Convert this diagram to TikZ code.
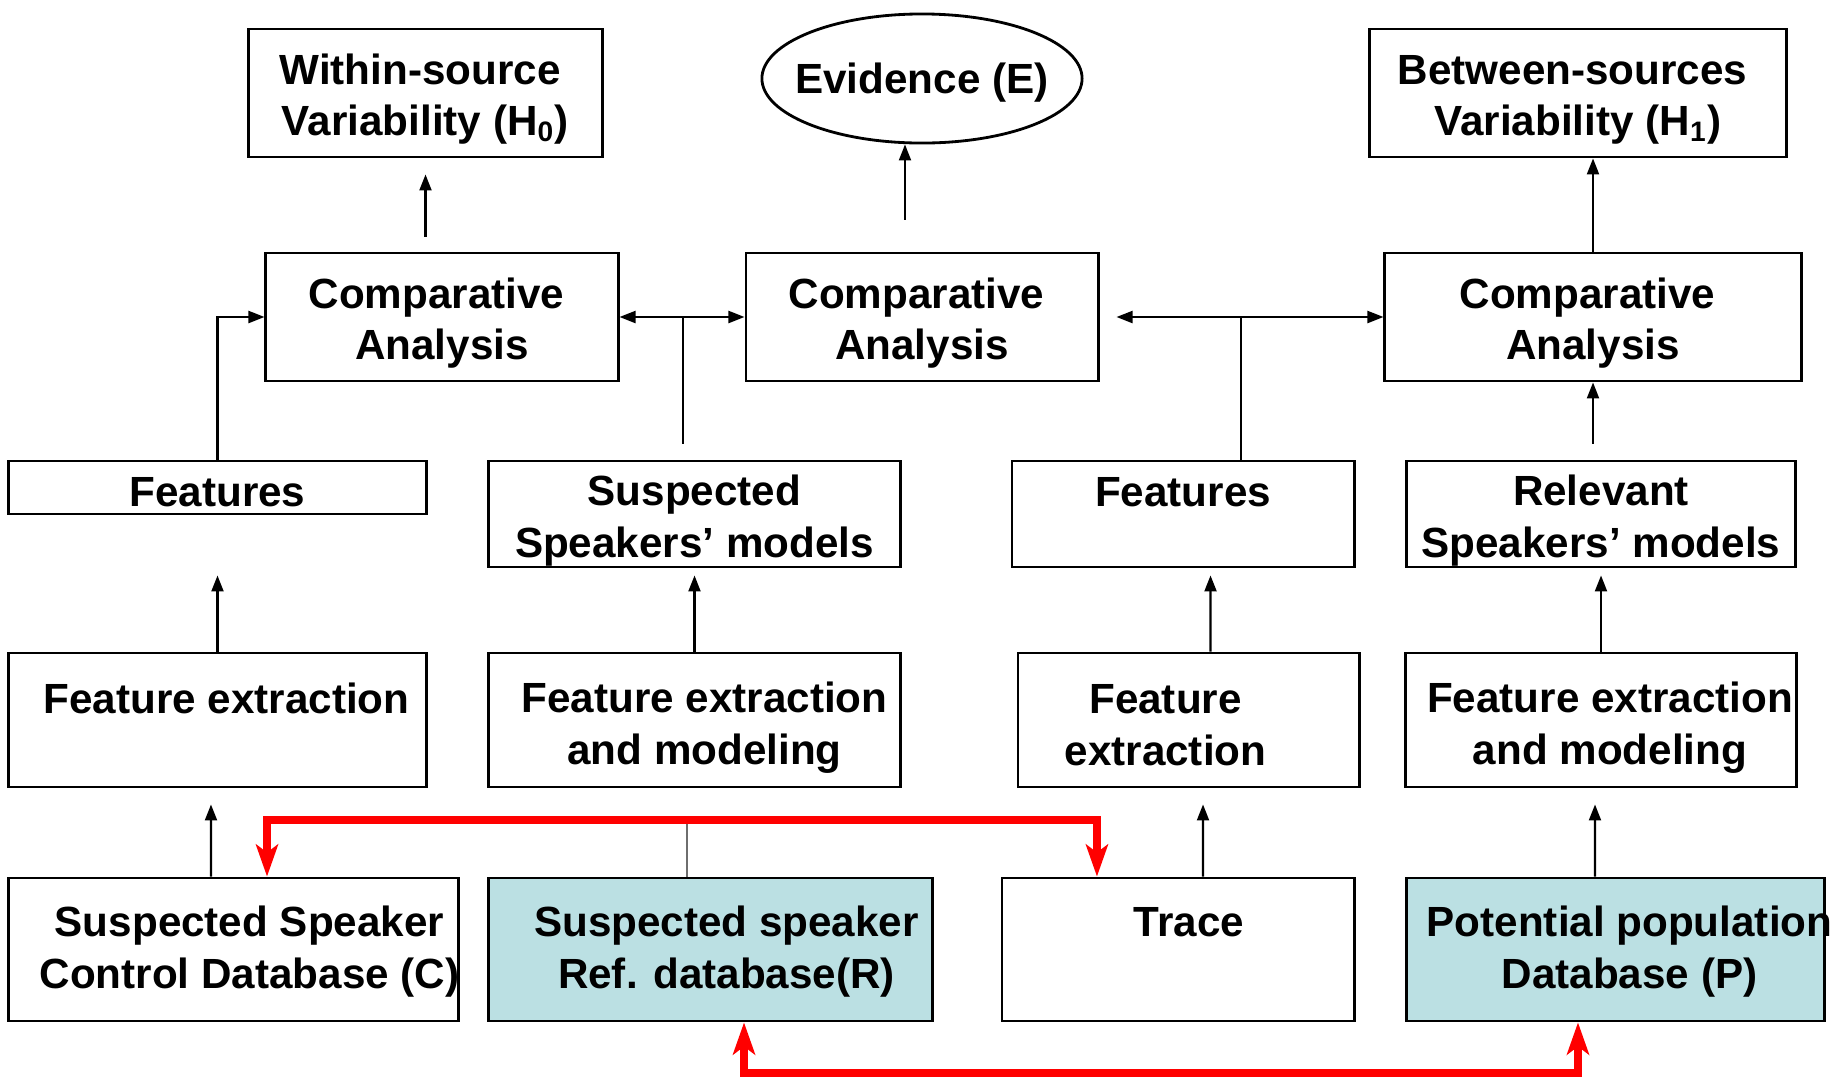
\documentclass[tikz,border=0pt]{standalone}
\usepackage{fontspec}
\setmainfont{Liberation Sans}
\usepackage{tikz}
\usetikzlibrary{arrows.meta,shapes.geometric}
\definecolor{dbblue}{RGB}{187,224,227}
\definecolor{linkgray}{RGB}{110,110,110}
\tikzset{
  droptext/.store in=\dropheight,
  droptext=26.7pt,
  blockbox/.style={draw,line width=0.8pt,fill=white,align=center,inner xsep=1pt,inner ysep=-3mm,execute at begin node={\rule{0pt}{\dropheight}},font=\bfseries\fontsize{12}{14.6}\selectfont},
  dbbox/.style={blockbox,fill=dbblue},
  evbox/.style={blockbox,ellipse,inner xsep=-2mm,inner ysep=0pt},
  flow/.style={-{Triangle[length=1.6mm,width=1.2mm]},line width=0.6pt},
  dflow/.style={{Triangle[length=1.6mm,width=1.2mm]}-{Triangle[length=1.6mm,width=1.2mm]},line width=0.6pt},
  link/.style={line width=0.6pt},
  redflow/.style={{Stealth[length=3.2mm,width=2.2mm,inset=0.8mm]}-{Stealth[length=3.2mm,width=2.2mm,inset=0.8mm]},line width=2.2pt,draw=red},
}
\begin{document}
\begin{tikzpicture}[x=0.01cm,y=-0.01cm]
  \useasboundingbox (0,0) rectangle (1836,1078);
  \node[blockbox,minimum width=3.53cm,minimum height=1.28cm] (within) at (425.5,93) {Within-source\kern1.1mm\\Variability (H\textsubscript{0})};
  \node[evbox,minimum width=3.2cm,minimum height=1.29cm,droptext=10.8pt] (evid) at (922,78.5) {Evidence (E)};
  \node[blockbox,minimum width=4.16cm,minimum height=1.28cm] (between) at (1578,93) {Between-sources\kern1.1mm\\Variability (H\textsubscript{1})};
  \node[blockbox,minimum width=3.52cm,minimum height=1.28cm] (ca1) at (442,317) {Comparative\kern1.1mm\\Analysis};
  \node[blockbox,minimum width=3.52cm,minimum height=1.28cm] (ca2) at (922,317) {Comparative\kern1.1mm\\Analysis};
  \node[blockbox,minimum width=4.16cm,minimum height=1.28cm] (ca3) at (1593,317) {Comparative\kern1.1mm\\Analysis};
  \node[blockbox,minimum width=4.17cm,minimum height=0.53cm,droptext=10.9pt] (feat1) at (217.5,487.5) {Features};
  \node[blockbox,minimum width=4.11cm,minimum height=1.06cm,droptext=27pt] (ssm) at (694.5,514) {Suspected\\Speakers’ models};
  \node[blockbox,minimum width=3.42cm,minimum height=1.06cm,droptext=29.4pt] (feat2) at (1183,514) {Features\\\strut};
  \node[blockbox,minimum width=3.88cm,minimum height=1.06cm,droptext=27pt] (rsm) at (1601,514) {Relevant\\Speakers’ models};
  \node[blockbox,minimum width=4.17cm,minimum height=1.34cm,droptext=30pt] (fe1) at (217.5,720) {\kern1.8mm Feature extraction\\\strut};
  \node[blockbox,minimum width=4.11cm,minimum height=1.34cm,droptext=27.7pt] (fem1) at (694.5,720) {\kern2mm Feature extraction\\\kern2mm and modeling};
  \node[blockbox,minimum width=3.41cm,minimum height=1.34cm,droptext=25.8pt] (fe2) at (1188.5,720) {Feature\kern4.6mm\\extraction\kern4.6mm};
  \node[blockbox,minimum width=3.88cm,minimum height=1.34cm,droptext=27.7pt] (fem2) at (1601,720) {\kern1.8mm Feature extraction\\\kern1.8mm and modeling};
  \node[blockbox,minimum width=4.49cm,minimum height=1.43cm,droptext=24.4pt,inner xsep=-4mm] (dbc) at (233.5,949.5) {\kern3.2mm Suspected Speaker\\\kern3.2mm Control Database (C)};
  \node[dbbox,minimum width=4.43cm,minimum height=1.43cm,droptext=24.4pt] (dbr) at (710.5,949.5) {\kern3.2mm Suspected speaker\\\kern3.2mm Ref. database(R)};
  \node[blockbox,minimum width=3.52cm,minimum height=1.43cm,droptext=26.2pt] (trace) at (1178,949.5) {\kern2.2mm Trace\\\strut};
  \node[dbbox,minimum width=4.17cm,minimum height=1.43cm,droptext=24.4pt,inner xsep=-4mm] (dbp) at (1615.5,949.5) {\kern2.8mm Potential population\\\kern2.8mm Database (P)};
  \coordinate (j1) at (683,317);
  \coordinate (j2) at (1241,317);
  \coordinate (rtop) at (687,820);
  \coordinate (rbot) at (1100,1073);
  \draw[flow,shorten <=1.5mm,shorten >=1.6mm] (ca1.north -| within.south) -- (within.south);
  \draw[flow,shorten <=3.2mm] ([xshift=-1.7mm]ca2.north) -- ([xshift=-1.7mm]evid.south);
  \draw[flow] (ca3.north) -- (ca3.north |- between.south);
  \draw[flow,shorten <=1.6mm] (rsm.north -| ca3.south) -- (ca3.south);
  \draw[flow] (feat1.north) |- (ca1.west);
  \draw[dflow] (ca1.east) -- (ca2.west);
  \draw[link,shorten <=1.6mm] (ssm.north -| j1) -- (j1);
  \draw[dflow,shorten <=1.7mm] (ca2.east) -- (ca3.west);
  \draw[link] (feat2.north -| j2) -- (j2);
  \draw[flow,shorten >=6mm] (fe1.north) -- (feat1.south);
  \draw[flow,shorten >=0.7mm] (fem1.north) -- (ssm.south);
  \draw[flow,shorten >=0.7mm] ([xshift=2.2mm]fe2.north) -- ([xshift=2.75mm]feat2.south);
  \draw[flow,shorten >=0.7mm] (fem2.north) -- (rsm.south);
  \draw[flow,shorten >=1.6mm] ([xshift=-2.25mm]dbc.north) -- ([xshift=-0.65mm]fe1.south);
  \draw[flow,shorten >=1.6mm] ([xshift=2.5mm]trace.north) -- ([xshift=1.45mm]fe2.south);
  \draw[flow,shorten >=1.6mm] ([xshift=-2.05mm]dbp.north) -- ([xshift=-0.6mm]fem2.south);
  \draw[link,draw=linkgray] (dbr.north -| rtop) -- (rtop);
  \draw[redflow] ([xshift=3.35mm]dbc.north) |- (rtop) -| ([xshift=-8.1mm]trace.north);
  \draw[redflow] ([xshift=3.35mm]dbr.south) |- (rbot) -| ([xshift=-3.75mm]dbp.south);
\end{tikzpicture}
\end{document}
